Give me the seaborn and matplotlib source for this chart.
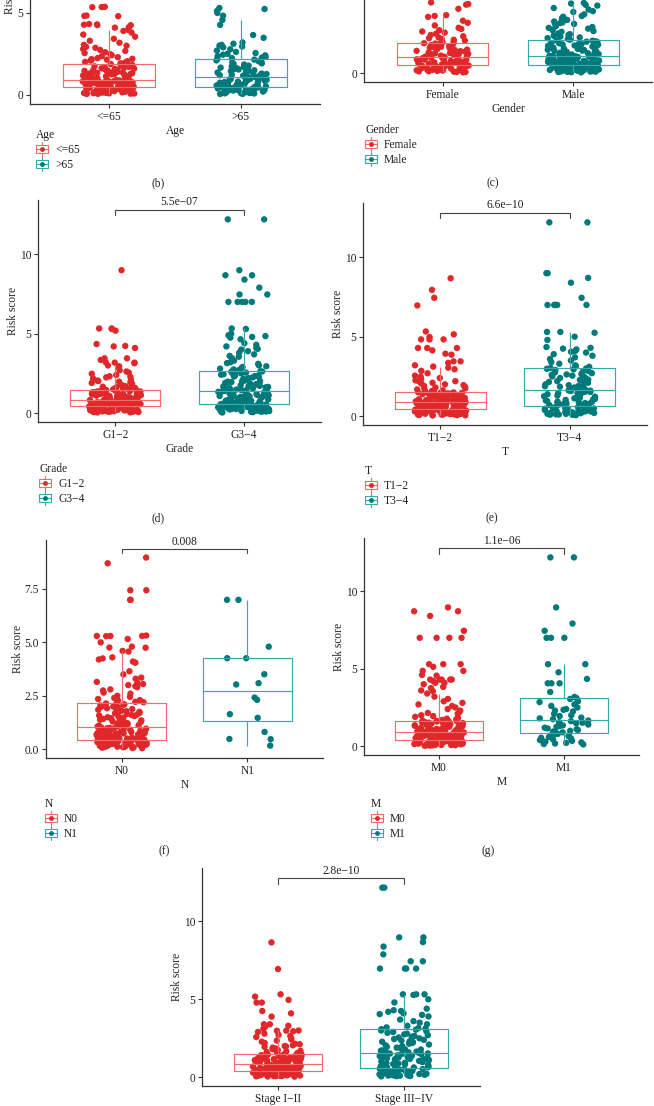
import numpy as np
import pandas as pd
import matplotlib
matplotlib.use("Agg")
import matplotlib.pyplot as plt
import seaborn as sns
from matplotlib.legend_handler import HandlerBase
from matplotlib.patches import Rectangle
from matplotlib.lines import Line2D

# ---------------- data (risk scores) ----------------
age_cats = ["<=65", ">65"]
age_le65 = [0.05,0.21,0.12,0.38,0.08,0.27,0.44,0.16,0.33,0.09,0.48,0.19,0.25,0.41,0.06,0.35,0.14,0.29,0.46,0.11,0.23,0.39,0.18,0.31,0.07,0.43,0.26,0.15,0.36,0.47,0.1,0.22,0.34,0.4,0.13,0.28,0.45,0.2,0.32,0.17,0.42,0.24,0.37,0.3,0.48,
            0.52,0.71,0.6,0.85,0.55,0.78,0.64,0.9,0.5,0.68,0.82,0.57,0.74,0.62,0.88,0.53,0.79,0.66,0.59,0.84,0.72,0.51,0.76,0.63,0.87,0.56,0.69,0.81,0.61,0.75,0.54,0.89,0.67,0.58,0.8,0.73,0.65,0.86,0.7,0.49,0.77,0.83,0.6,0.9,0.57,
            0.95,1.32,1.1,1.71,1.02,1.48,1.21,1.85,0.98,1.4,1.15,1.62,1.06,1.55,1.27,1.78,0.93,1.36,1.18,1.67,1.44,1.0,1.25,1.58,1.12,1.82,1.3,0.97,1.52,1.08,1.74,1.38,1.23,1.65,1.04,1.46,1.88,1.17,1.6,1.34,0.94,1.8,1.28,1.5,1.13,
            1.93,2.05,2.18,2.3,1.97,2.42,2.12,2.55,2.24,2.68,2.01,2.8,2.36,2.93,2.1,3.05,2.48,3.18,2.6,3.3,2.74,3.42,2.2,3.55,2.87,3.68,3.0,3.8,2.15,3.9,3.96,
            4.1,4.12,4.28,4.3,4.26,4.32,4.25,4.82,4.8,4.84,5.36,5.37,5.35,7.0]
age_gt65 = [0.06,0.31,0.15,0.42,0.09,0.26,0.37,0.12,0.2,0.45,0.05,0.34,0.18,0.28,0.4,0.1,0.23,0.46,0.14,0.33,0.08,0.39,0.21,0.29,0.17,0.44,0.11,0.36,0.24,0.47,
            0.52,0.85,0.63,1.02,0.57,0.92,0.7,1.08,0.49,0.78,0.96,0.6,0.88,0.67,1.05,0.55,0.81,0.74,0.99,0.51,0.9,0.65,1.07,0.58,0.83,0.72,0.94,0.61,1.0,0.76,
            1.14,1.62,1.3,2.05,1.2,1.78,1.45,2.15,1.17,1.55,1.92,1.36,1.7,1.24,2.1,1.5,1.85,1.12,1.41,1.98,1.27,1.66,2.18,1.33,1.58,1.88,1.22,1.74,2.0,1.48,
            2.24,2.36,2.5,2.31,2.62,2.45,2.78,2.28,2.9,2.55,3.05,2.41,3.2,2.7,3.48,3.12,3.65,2.95,3.0,4.27,4.57,
            4.83,5.0,5.12,5.24,5.3,7.0,9.0,12.2,12.2]

gender_cats = ["Female", "Male"]
gender_female = [0.07,0.34,0.18,0.48,0.11,0.29,0.41,0.05,0.23,0.51,0.14,0.37,0.26,0.45,0.09,0.31,0.2,0.5,0.16,0.39,0.12,0.28,0.44,0.08,0.35,0.22,0.47,0.19,0.4,0.25,
                 0.55,0.8,0.63,0.93,0.58,0.74,0.87,0.6,0.95,0.68,0.83,0.53,0.77,0.65,0.9,0.57,0.71,0.85,0.62,0.96,0.7,0.79,0.54,0.88,0.66,0.92,0.73,0.59,0.82,0.97,
                 1.0,1.45,1.18,1.8,1.07,1.6,1.3,1.88,1.03,1.52,1.24,1.72,1.12,1.4,1.66,1.2,1.84,1.35,1.05,1.57,1.27,1.76,1.1,1.48,1.62,1.15,1.38,1.86,1.22,1.69,
                 1.93,2.1,2.25,1.98,2.4,2.05,2.55,2.2,2.7,2.32,2.85,2.15,3.0,2.48,3.17,2.62,3.3,2.78,3.54,3.6,3.65,
                 4.05,4.31,4.35,4.45,5.3,7.0,7.45,8.7,12.2]
gender_male = [0.05,0.27,0.14,0.41,0.09,0.33,0.2,0.46,0.12,0.37,0.06,0.24,0.44,0.17,0.3,0.48,0.1,0.35,0.22,0.39,0.07,0.29,0.43,0.15,0.32,0.19,0.47,0.11,0.25,0.4,0.08,0.36,0.21,0.45,0.13,0.31,0.42,0.18,0.26,0.49,0.16,0.34,0.23,0.38,0.28,
               0.53,0.82,0.64,1.0,0.57,0.9,0.71,1.03,0.5,0.77,0.95,0.61,0.86,0.68,1.04,0.55,0.8,0.74,0.98,0.52,0.92,0.66,0.84,0.59,1.01,0.72,0.88,0.62,0.96,0.54,0.79,0.69,0.93,0.58,0.83,0.75,1.02,0.6,0.87,0.7,0.97,0.56,0.81,0.65,0.91,
               1.08,1.55,1.25,1.95,1.14,1.7,1.38,2.04,1.1,1.6,1.85,1.3,1.47,1.2,1.78,1.06,1.65,1.42,2.0,1.17,1.52,1.88,1.28,1.74,1.12,1.58,1.35,1.98,1.22,1.68,1.45,1.82,1.16,1.62,2.06,1.33,1.5,1.9,1.26,1.72,1.4,1.07,1.8,1.19,1.57,
               2.1,2.35,2.6,2.2,2.85,2.45,3.1,2.3,3.35,2.7,3.6,2.15,2.95,3.85,2.5,3.2,4.1,2.8,3.45,4.25,2.4,3.05,3.7,4.3,2.65,3.25,4.0,2.9,3.55,4.38,2.25,3.15,3.9,4.42,
               4.8,5.1,5.3,5.3,7.0,7.0,7.45,8.4,8.95,9.0,12.2]

grade_cats = ["G1\u22122", "G3\u22124"]
grade_low = [0.05,0.24,0.12,0.36,0.08,0.3,0.18,0.41,0.1,0.27,0.15,0.39,0.06,0.21,0.33,0.13,0.38,0.09,0.26,0.17,0.42,0.07,0.31,0.2,0.35,0.11,0.28,0.4,0.14,0.23,0.04,0.34,0.19,0.37,0.16,0.29,0.22,0.41,0.08,0.32,0.25,0.12,0.39,0.2,0.3,
             0.45,0.66,0.52,0.76,0.48,0.61,0.71,0.44,0.57,0.78,0.5,0.68,0.55,0.74,0.43,0.63,0.59,0.77,0.47,0.69,0.53,0.72,0.46,0.64,0.58,0.79,0.51,0.7,0.56,0.75,0.49,0.62,0.67,0.54,0.73,0.6,0.45,0.65,0.57,0.78,0.5,0.68,0.53,0.71,0.62,
             0.82,1.12,0.95,1.38,0.86,1.2,1.03,1.44,0.84,1.15,1.3,0.92,1.25,1.0,1.41,0.88,1.08,1.34,0.98,1.22,1.45,0.9,1.17,1.36,1.05,1.28,0.81,1.1,1.42,0.94,1.24,1.02,1.32,0.87,1.18,1.4,0.97,1.27,1.06,1.35,0.83,1.13,1.46,0.99,1.21,
             1.5,1.62,1.8,1.55,1.95,1.7,2.1,1.58,2.25,1.85,2.4,1.66,2.02,2.55,1.75,2.18,2.7,1.9,2.32,2.85,1.52,2.05,2.48,2.95,1.68,2.28,3.0,1.98,2.62,
             3.14,3.18,3.18,3.2,3.35,3.45,3.45,4.1,4.2,4.23,4.35,5.19,5.3,5.33,5.33,9.0]
grade_high = [0.06,0.31,0.15,0.48,0.09,0.38,0.22,0.53,0.12,0.35,0.04,0.27,0.44,0.18,0.5,0.1,0.33,0.25,0.55,0.14,0.41,0.07,0.29,0.46,0.2,0.36,0.11,0.52,0.24,0.4,0.16,0.32,0.08,0.47,0.26,0.43,0.13,0.34,0.21,0.54,0.17,0.39,0.28,0.45,0.23,
              0.6,1.05,0.75,1.3,0.65,1.18,0.88,1.34,0.58,0.95,1.22,0.7,1.12,0.82,1.27,0.62,1.0,0.78,1.35,0.67,1.15,0.9,0.57,1.08,0.8,1.25,0.72,0.98,1.32,0.64,1.1,0.85,1.2,0.69,1.02,0.77,1.29,0.6,0.93,1.16,0.74,1.06,0.87,1.24,0.97,
              1.4,2.05,1.65,2.55,1.5,2.3,1.85,2.62,1.45,2.15,1.72,2.45,1.58,2.0,2.38,1.78,2.6,1.42,1.95,2.25,1.68,2.5,1.52,2.1,1.9,2.35,1.62,2.58,1.48,2.2,1.82,2.42,1.55,2.02,2.28,1.75,2.63,1.44,1.98,2.48,1.7,2.12,1.88,2.33,1.6,
              2.7,3.1,2.85,3.6,2.95,4.0,3.3,4.4,2.75,3.45,4.8,3.0,3.8,4.2,2.9,3.55,4.65,3.2,4.05,4.9,2.8,3.7,4.3,4.75,3.15,3.9,4.85,5.0,5.3,5.33,4.1,
              7.0,7.0,7.0,7.0,7.0,7.47,7.47,7.9,8.41,8.68,8.68,9.0,12.2,12.2]

t_cats = ["T1\u22122", "T3\u22124"]
t_low = [0.05,0.26,0.13,0.4,0.08,0.32,0.19,0.43,0.1,0.29,0.06,0.22,0.37,0.15,0.34,0.09,0.42,0.2,0.28,0.12,0.38,0.07,0.24,0.35,0.17,0.44,0.11,0.3,0.21,0.39,0.04,0.27,0.16,0.33,0.23,0.41,0.14,0.36,0.18,0.31,0.25,0.09,0.4,0.2,0.33,
         0.47,0.7,0.55,0.84,0.5,0.76,0.62,0.87,0.46,0.66,0.8,0.53,0.73,0.58,0.86,0.49,0.68,0.78,0.56,0.82,0.6,0.45,0.72,0.64,0.85,0.52,0.75,0.59,0.81,0.48,0.69,0.57,0.79,0.63,0.88,0.51,0.74,0.61,0.83,0.54,0.71,0.65,0.77,0.5,0.67,
         0.91,1.2,1.02,1.46,0.95,1.3,1.1,1.5,0.93,1.25,1.4,1.05,1.35,0.98,1.16,1.44,1.0,1.28,1.52,1.08,1.38,0.92,1.22,1.47,1.13,1.33,0.96,1.18,1.42,1.04,1.27,1.49,0.99,1.15,1.36,1.07,1.31,0.94,1.24,1.43,1.11,1.53,1.01,1.19,1.39,
         1.58,1.75,1.95,1.62,2.1,1.85,2.25,1.68,2.4,2.0,2.55,1.72,2.18,2.7,1.9,2.32,2.85,1.6,2.05,2.95,1.8,2.48,3.05,2.2,3.12,3.2,
         3.35,3.45,3.45,3.87,3.93,4.14,4.29,4.29,4.29,4.83,4.83,4.83,4.98,5.15,5.33,6.97,7.45,7.95,8.68]
t_high = [0.08,0.4,0.2,0.58,0.12,0.33,0.5,0.15,0.27,0.62,0.1,0.44,0.23,0.55,0.06,0.36,0.18,0.48,0.29,0.6,0.14,0.38,0.25,0.53,0.09,0.31,0.46,0.21,0.57,0.16,0.42,0.34,0.11,0.51,0.26,
          0.7,1.2,0.9,1.55,0.78,1.38,1.02,1.6,0.66,1.12,1.45,0.85,1.3,0.95,1.52,0.72,1.08,1.25,0.82,1.58,0.98,1.4,0.68,1.16,1.34,0.88,1.5,0.75,1.05,1.62,0.92,1.22,1.44,0.8,1.28,
          1.7,2.4,2.0,2.95,1.8,2.65,2.2,3.0,1.75,2.3,2.8,1.9,2.55,2.1,2.9,1.68,2.45,2.25,3.03,1.85,2.7,2.05,2.6,1.95,2.35,2.85,1.72,2.15,2.75,1.88,2.5,2.98,2.28,1.78,2.62,
          3.1,3.4,3.9,3.2,4.05,3.6,4.3,3.15,4.1,4.25,3.7,4.8,3.3,4.2,5.0,3.5,4.35,5.3,5.25,3.8,4.0,5.3,
          7.0,7.0,7.0,7.0,7.0,7.0,7.45,8.4,8.7,9.0,9.0,12.2,12.2]

n_cats = ["N0", "N1"]
n0 = [0.06,0.27,0.14,0.41,0.09,0.33,0.2,0.44,0.11,0.3,0.07,0.23,0.38,0.16,0.35,0.1,0.43,0.21,0.29,0.13,0.39,0.08,0.25,0.36,0.18,0.42,0.12,0.31,0.22,0.4,0.05,0.28,0.17,0.34,0.24,0.37,0.15,0.32,0.19,0.26,0.1,0.43,0.22,0.35,0.3,
      0.48,0.77,0.58,0.98,0.52,0.85,0.66,1.02,0.47,0.72,0.93,0.55,0.81,0.62,1.0,0.5,0.75,0.89,0.6,0.96,0.68,0.46,0.83,0.7,1.01,0.54,0.79,0.64,0.91,0.49,0.74,0.57,0.87,0.67,0.99,0.53,0.8,0.63,0.94,0.59,0.76,0.71,0.88,0.51,0.69,
      1.08,1.55,1.25,2.05,1.15,1.75,1.4,2.12,1.06,1.6,1.9,1.3,1.68,1.2,2.0,1.45,1.82,1.1,1.5,1.95,1.28,1.72,2.1,1.35,1.62,1.88,1.18,1.78,2.14,1.42,1.58,1.98,1.22,1.65,1.85,1.12,1.52,2.08,1.38,1.7,1.05,1.92,1.32,1.8,1.48,
      2.2,2.35,2.6,2.28,2.9,2.45,3.1,2.3,3.3,2.75,3.5,2.22,2.95,3.05,2.5,3.15,4.1,2.8,3.65,4.2,2.4,3.0,4.25,4.3,2.65,3.35,4.05,4.57,4.6,
      4.75,4.76,4.8,5.0,5.16,5.29,5.3,5.3,5.3,5.32,6.99,6.99,7.44,7.44,8.7,8.97]
n1 = [6.99,6.99,4.8,4.26,4.26,3.51,3.03,3.09,2.42,2.31,1.64,1.47,0.81,0.48,0.47,0.17]

m_cats = ["M0", "M1"]
m0 = [0.05,0.25,0.13,0.38,0.08,0.31,0.19,0.42,0.1,0.28,0.06,0.22,0.35,0.15,0.33,0.09,0.41,0.2,0.27,0.12,0.37,0.07,0.24,0.34,0.17,0.43,0.11,0.3,0.21,0.39,0.04,0.26,0.16,0.32,0.23,0.4,0.14,0.36,0.18,0.29,0.09,0.42,0.21,0.34,0.12,0.27,0.06,0.38,0.19,0.31,
      0.46,0.7,0.54,0.86,0.5,0.77,0.61,0.89,0.45,0.66,0.82,0.52,0.74,0.58,0.88,0.48,0.68,0.8,0.56,0.84,0.6,0.44,0.72,0.64,0.87,0.51,0.76,0.59,0.83,0.47,0.69,0.57,0.79,0.63,0.9,0.53,0.75,0.62,0.85,0.55,0.71,0.65,0.78,0.49,0.67,0.81,0.6,0.73,0.52,0.86,
      0.93,1.25,1.05,1.58,0.97,1.38,1.15,1.63,0.95,1.3,1.5,1.08,1.42,1.0,1.2,1.55,1.03,1.35,1.62,1.12,1.46,0.94,1.28,1.6,1.18,1.4,0.99,1.22,1.52,1.07,1.33,1.65,1.02,1.17,1.44,1.1,1.36,0.96,1.26,1.56,1.14,1.48,1.04,1.23,1.64,1.32,1.09,1.53,1.19,1.43,
      1.7,1.9,2.15,1.78,2.3,2.0,2.5,1.82,2.7,2.2,2.9,1.75,2.4,3.05,2.1,2.6,3.2,1.95,2.8,3.4,
      3.55,3.6,3.75,3.83,4.0,4.09,4.09,4.2,4.3,4.3,4.3,4.3,4.3,4.55,4.6,4.86,4.86,5.12,5.29,5.29,5.29,6.99,6.99,6.99,6.99,7.44,8.4,8.7,8.7,8.95]
m1 = [0.12,0.45,0.25,0.7,0.18,0.55,0.35,0.8,0.22,0.6,0.4,0.15,0.5,0.3,0.75,0.65,0.84,
      0.9,1.3,1.05,1.55,0.95,1.4,1.15,1.62,1.0,1.25,1.48,1.1,1.35,0.92,1.2,1.52,1.66,
      1.75,2.3,2.0,2.9,1.85,2.5,2.25,3.05,1.8,2.35,2.7,2.1,2.6,1.95,2.4,2.85,3.1,
      3.18,3.5,4.06,4.06,4.06,4.34,4.77,5.29,5.29,
      6.99,6.99,6.99,7.44,7.91,8.95,12.17,12.17]

stage_cats = ["Stage I\u2212II", "Stage III\u2212IV"]
stage_early = [0.05,0.23,0.12,0.36,0.08,0.29,0.17,0.39,0.1,0.26,0.06,0.2,0.33,0.14,0.31,0.09,0.38,0.18,0.25,0.11,0.35,0.07,0.22,0.32,0.15,0.4,0.1,0.28,0.19,0.37,0.04,0.24,0.13,0.3,0.21,0.34,0.16,0.27,0.12,0.38,0.2,0.3,0.08,0.35,0.25,
               0.43,0.65,0.5,0.79,0.46,0.71,0.57,0.82,0.42,0.61,0.76,0.48,0.68,0.54,0.81,0.45,0.63,0.74,0.52,0.78,0.56,0.41,0.67,0.59,0.8,0.47,0.7,0.55,0.77,0.44,0.64,0.53,0.73,0.58,0.83,0.49,0.69,0.6,0.75,0.51,0.66,0.62,0.72,0.46,0.57,
               0.86,1.15,0.97,1.4,0.9,1.25,1.05,1.45,0.88,1.2,1.33,1.0,1.28,0.93,1.1,1.38,0.95,1.22,1.46,1.03,1.31,0.85,1.17,1.42,1.08,1.27,0.91,1.13,1.36,0.99,1.21,1.44,0.94,1.07,1.3,1.02,1.24,0.89,1.16,1.39,1.06,1.47,0.96,1.12,1.34,
               1.52,1.7,1.9,1.58,2.05,1.8,2.2,1.62,2.35,1.95,2.5,1.66,2.12,2.65,1.85,2.28,2.8,1.55,2.0,2.9,1.75,2.42,2.95,2.15,3.0,2.98,2.99,2.58,1.98,2.72,
               3.1,3.25,3.3,3.4,3.4,3.89,4.1,4.25,4.79,4.79,4.96,5.17,5.32,6.94,8.65]
stage_late = [0.07,0.35,0.18,0.52,0.1,0.3,0.45,0.13,0.25,0.57,0.09,0.4,0.21,0.5,0.06,0.33,0.16,0.43,0.27,0.55,0.12,0.37,0.23,0.48,0.08,0.28,0.42,0.19,0.53,0.14,0.38,0.31,0.11,0.46,0.24,
              0.65,1.15,0.85,1.48,0.72,1.3,0.98,1.52,0.62,1.05,1.38,0.8,1.22,0.9,1.45,0.68,1.02,1.18,0.78,1.5,0.93,1.33,0.63,1.1,1.27,0.83,1.42,0.7,1.0,1.53,0.88,1.16,1.36,0.75,1.25,
              1.6,2.35,1.95,2.95,1.7,2.6,2.15,3.05,1.65,2.25,2.8,1.85,2.5,2.05,2.9,1.58,2.4,2.2,3.08,1.78,2.7,2.0,2.55,1.9,2.3,2.85,1.62,2.1,2.75,1.8,2.45,3.0,2.28,1.72,2.65,
              3.15,3.4,3.9,3.2,4.05,3.6,4.3,3.12,4.1,4.25,3.7,4.8,3.3,4.2,5.0,3.5,4.0,4.4,5.28,5.32,5.32,5.32,
              6.97,6.97,6.97,6.97,7.44,7.44,7.88,8.38,8.67,8.97,8.97,12.16,12.16]

p_values = {"Grade": "5.5e\u221207", "T": "6.6e\u221210", "N": "0.008", "M": "1.1e\u221206", "Stage": "2.8e\u221210"}

# ---------------- style ----------------
sns.set_theme(style="white")
plt.rcParams["font.family"] = ["Liberation Serif", "DejaVu Serif"]
plt.rcParams["axes.unicode_minus"] = True

BOX_COLS = ["#F26A6A", "#38A8A9"]
PT_COLS = ["#E0282A", "#00797B"]
TXT = "#222222"
AX = "#333333"
FS = 8.3

W, H = 654, 1106
fig = plt.figure(figsize=(W / 100, H / 100), dpi=100)
np.random.seed(7)


def px_rect(x0, y0, x1, y1):
    return [x0 / W, 1 - y1 / H, (x1 - x0) / W, (y1 - y0) / H]


class BoxKey:
    def __init__(self, line, point):
        self.line = line
        self.point = point


class BoxKeyHandler(HandlerBase):
    def create_artists(self, legend, orig, xd, yd, w, h, fs, trans):
        cx = -xd + w / 2
        cy = -yd + h / 2
        bw, bh = w * 0.95, h * 0.8
        arts = [
            Rectangle((cx - bw / 2, cy - bh / 2), bw, bh, fill=False, ec=orig.line, lw=0.8, transform=trans),
            Line2D([cx - bw / 2, cx + bw / 2], [cy, cy], color=orig.line, lw=0.8, transform=trans),
            Line2D([cx, cx], [cy + bh / 2, -yd + h + 1.5], color=orig.line, lw=0.8, transform=trans),
            Line2D([cx, cx], [-yd - 1.5, cy - bh / 2], color=orig.line, lw=0.8, transform=trans),
            Line2D([cx], [cy], marker="o", ms=3.5, color=orig.point, ls="none", mew=0, transform=trans),
        ]
        return arts


def draw_panel(name, cats, groups, box_px, ylim, yticks, yticklabels, legend_px,
               bracket=None, xlabel=True, ylabel=True):
    ax = fig.add_axes(px_rect(*box_px))
    df = pd.DataFrame({
        "group": np.concatenate([[c] * len(g) for c, g in zip(cats, groups)]),
        "score": np.concatenate([np.asarray(g, float) for g in groups]),
    })
    pal_pts = dict(zip(cats, PT_COLS))
    pal_box = dict(zip(cats, BOX_COLS))
    sns.stripplot(data=df, x="group", y="score", hue="group", order=cats, hue_order=cats,
                  palette=pal_pts, jitter=0.2, size=4.6, linewidth=0, legend=False, ax=ax)
    sns.boxplot(data=df, x="group", y="score", hue="group", order=cats, hue_order=cats,
                palette=pal_box, fill=False, width=0.7, showfliers=False, showcaps=False,
                whis=1.5, linewidth=0.85, legend=False, ax=ax)
    for ln in ax.lines:
        ln.set_zorder(4)
    for p in ax.patches:
        p.set_zorder(4)

    ax.set_xlim(-0.6, 1.6)
    ax.set_ylim(*ylim)
    ax.set_yticks(yticks)
    ax.set_yticklabels(yticklabels)
    for s in ["top", "right"]:
        ax.spines[s].set_visible(False)
    for s in ["left", "bottom"]:
        ax.spines[s].set_color(AX)
        ax.spines[s].set_linewidth(0.9)
    ax.tick_params(axis="both", which="both", direction="out", length=3, width=0.8,
                   color=AX, labelsize=FS, labelcolor=TXT, pad=2, left=True, bottom=True)
    ax.set_xlabel(name if xlabel else "", fontsize=FS, color=TXT, labelpad=1.5)
    ax.set_ylabel("Risk score" if ylabel else "", fontsize=FS, color=TXT, labelpad=0.5)

    if bracket is not None:
        ybar, ytip = bracket
        ax.plot([0, 0, 1, 1], [ytip, ybar, ybar, ytip], color="#444444", lw=0.8, zorder=5,
                solid_joinstyle="miter")
        ax.text(0.5, ybar + (ybar - ytip) * 0.25, p_values[name], ha="center", va="bottom",
                fontsize=FS, color=TXT)

    if legend_px is not None:
        handles = [BoxKey(b, p) for b, p in zip(BOX_COLS, PT_COLS)]
        leg = fig.legend(handles, cats, title=name, loc="upper left",
                         bbox_to_anchor=(legend_px[0] / W, 1 - legend_px[1] / H),
                         frameon=False, fontsize=FS, title_fontsize=FS,
                         handler_map={BoxKey: BoxKeyHandler()},
                         handlelength=1.1, handleheight=0.95, handletextpad=0.55,
                         labelspacing=0.25, borderpad=0, borderaxespad=0,
                         alignment="left")
        for t in leg.get_texts():
            t.set_color(TXT)
        leg.get_title().set_color(TXT)
    return ax


Y13 = (-0.56, 13.42)
draw_panel("Age", age_cats, [age_le65, age_gt65], (30, -125, 320, 104), Y13,
           [0, 5], ["0", "5"], (36, 129))
draw_panel("Gender", gender_cats, [gender_female, gender_male], (364, -140, 652, 82), Y13,
           [0], ["0"], (365, 124), ylabel=False)
draw_panel("Grade", grade_cats, [grade_low, grade_high], (38, 200, 321, 422), Y13,
           [0, 5, 10], ["0", "5", "10"], (39, 463), bracket=(12.82, 12.46))
draw_panel("T", t_cats, [t_low, t_high], (363, 203, 647, 425), Y13,
           [0, 5, 10], ["0", "5", "10"], (365, 465), bracket=(12.82, 12.46))
draw_panel("N", n_cats, [n0, n1], (46, 540, 323, 758), (-0.41, 9.79),
           [0, 2.5, 5, 7.5], ["0.0", "2.5", "5.0", "7.5"], (45, 798), bracket=(9.38, 9.18))
draw_panel("M", m_cats, [m0, m1], (364, 538, 639, 755), Y13,
           [0, 5, 10], ["0", "5", "10"], (371, 798), bracket=(12.78, 12.42))
draw_panel("Stage", stage_cats, [stage_early, stage_late], (202, 868, 480, 1086), Y13,
           [0, 5, 10], ["0", "5", "10"], None, bracket=(12.78, 12.42), xlabel=False)

for tag, (x, y) in {"(b)": (158, 183), "(c)": (493, 183), "(d)": (158, 518),
                    "(e)": (492, 518), "(f)": (164, 851), "(g)": (488, 851)}.items():
    fig.text(x / W, 1 - y / H, tag, ha="center", va="center", fontsize=FS, color=TXT)

fig.savefig("out.png", dpi=100)
